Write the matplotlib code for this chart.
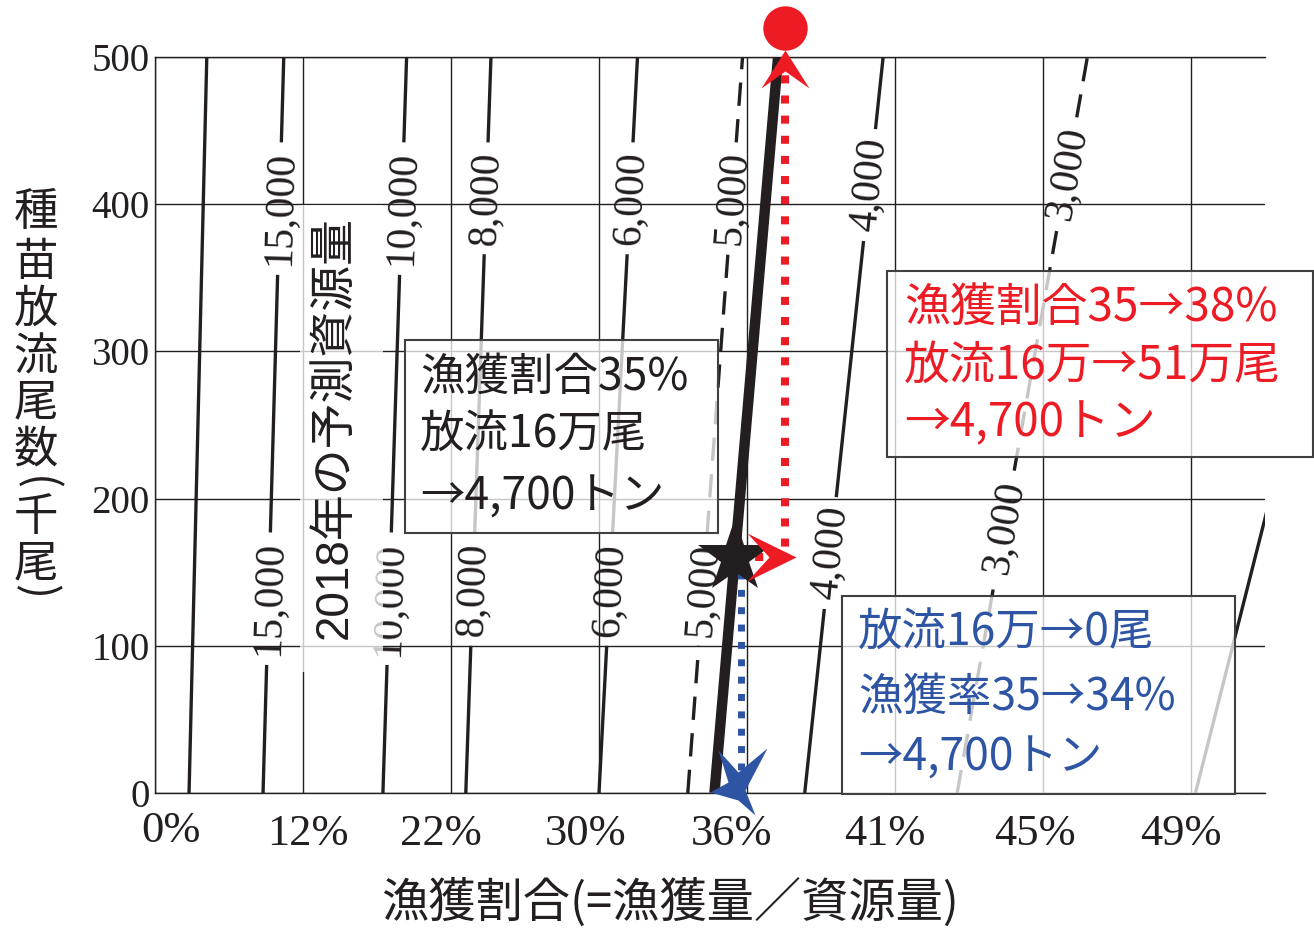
import numpy as np
import matplotlib.pyplot as plt
import matplotlib.transforms as mtrans
from matplotlib.patches import Rectangle

plt.rcParams['font.family'] = ['Noto Sans CJK JP', 'DejaVu Sans']
SANS = ['Liberation Sans', 'Noto Sans CJK JP']

INK = '#231f20'
RED = '#ed1c24'
BLUE = '#2e54a4'

# x axis: catch ratio categories, one per grid column
xlabels = ['0%', '12%', '22%', '30%', '36%', '41%', '45%', '49%']
yticks = [0, 100, 200, 300, 400, 500]

# iso-biomass lines (tons): x at 0 and at 500 thousand fish released
iso_vals = ['', '15,000', '10,000', '8,000', '6,000', '5,000', '4,000', '3,000', '']
iso_x0 = [0.23, 0.73, 1.54, 2.10, 3.00, 3.60, 4.39, 5.42, 7.03]
iso_x1 = [0.35, 0.87, 1.70, 2.27, 3.26, 3.97, 4.92, 6.30, 8.29]
iso_lab_hi = [0, 397, 397, 404, 404, 404, 413, 421, 0]
iso_lab_lo = [0, 132, 132, 138, 138, 138, 163, 181, 0]
dashed_vals = ['5,000', '3,000']

# forecast 4,700 t line
cur_x0, cur_x1 = 3.78, 4.21

# scenarios
now_x, now_y = 3.92, 160          # 35%, 160 thousand
red_x, red_top, red_goal = 4.26, 490, 520
blue_x, blue_y0, blue_y1 = 3.96, 150, 15

fig = plt.figure(figsize=(13.14, 9.3), dpi=100)
ax = fig.add_axes([155/1314, 1-793/930, 1110/1314, 736/930])
ax.set_xlim(0, 7.5)
ax.set_ylim(0, 500)

ax.set_xticks(range(len(xlabels)))
ax.set_xticklabels(xlabels, family='Liberation Serif', fontsize=32, color=INK)
ax.set_yticks(yticks)
ax.set_yticklabels([str(v) for v in yticks], family='Liberation Serif', fontsize=28, color=INK)
ax.tick_params(length=0)
ax.tick_params(axis='x', pad=15)
ax.tick_params(axis='y', pad=4)
ax.grid(color=INK, lw=1.0, zorder=2.5)
ax.set_axisbelow(False)
ax.spines['right'].set_visible(False)
for s in ['left', 'bottom', 'top']:
    ax.spines[s].set_color(INK)
    ax.spines[s].set_linewidth(1.0)

xlab_shift = [(16, 3), (5, 0), (-10, 0), (-13, 0), (-15, 0), (-10, 0), (-8, 0), (-10, 0)]
for lab, (dx, dy) in zip(ax.get_xticklabels(), xlab_shift):
    lab.set_transform(lab.get_transform() +
                      mtrans.ScaledTranslation(dx/100, dy/100, fig.dpi_scale_trans))

# iso lines with gaps for labels
for val, x0, x1, yh, yl in zip(iso_vals, iso_x0, iso_x1, iso_lab_hi, iso_lab_lo):
    slope = (x1 - x0) / 500
    ls = (0, (7, 4)) if val in dashed_vals else '-'
    if val:
        gh = 7 * len(val) + 3
        spans = [(0, yl - gh), (yl + gh, yh - gh), (yh + gh, 500)]
    else:
        spans = [(0, 500)]
    for ya, yb in spans:
        ax.plot([x0 + slope*ya, x0 + slope*yb], [ya, yb], color=INK, lw=2.4,
                ls=ls, zorder=2, solid_capstyle='butt')
    if val:
        ang = np.degrees(np.arctan2(500, x1 - x0))
        for yy in (yh, yl):
            ax.text(x0 + slope*yy, yy, val, rotation=ang, transform_rotates_text=True,
                    rotation_mode='anchor', ha='center', va='center',
                    family='Liberation Serif', fontsize=30, color=INK, zorder=1.5)

ax.plot([cur_x0, cur_x1], [0, 500], color=INK, lw=7.5, zorder=3, solid_capstyle='butt')

# text boxes (semi-transparent white)
def box(x0, y0, x1, y1, edge=True):
    ax.add_patch(Rectangle((x0, y0), x1-x0, y1-y0, transform=ax.transAxes,
                           facecolor='white', alpha=0.75, edgecolor='none',
                           zorder=4, clip_on=False))
    if edge:
        ax.add_patch(Rectangle((x0, y0), x1-x0, y1-y0, transform=ax.transAxes,
                               facecolor='none', edgecolor='#404040', lw=1.5,
                               zorder=4.1, clip_on=False))

box(0.1306, 0.164, 0.2054, 0.799, edge=False)
ax.text(0.1622, 0.497, '2018年の予測資源量', transform=ax.transAxes, rotation=90,
        ha='center', va='center', fontsize=33, color=INK, zorder=5, family=SANS)

box(0.2252, 0.3533, 0.5072, 0.6155)
for t, yy in zip(['漁獲割合35%', '放流16万尾', '→4,700トン'], [0.5652, 0.4864, 0.4022]):
    ax.text(0.2387, yy, t, transform=ax.transAxes, ha='left', va='center',
            fontsize=32, color=INK, zorder=5)

box(0.6595, 0.4565, 1.0432, 0.7092)
for t, yy in zip(['漁獲割合35→38%', '放流16万→51万尾', '→4,700トン'], [0.659, 0.5815, 0.5027]):
    ax.text(0.6748, yy, t, transform=ax.transAxes, ha='left', va='center',
            fontsize=33, color=RED, zorder=5, clip_on=False)

box(0.6189, -0.0014, 0.9730, 0.2677)
for t, yy in zip(['放流16万→0尾', '漁獲率35→34%', '→4,700トン'], [0.2174, 0.1304, 0.0476]):
    ax.text(0.6333, yy, t, transform=ax.transAxes, ha='left', va='center',
            fontsize=32, color=BLUE, zorder=5)

# scenario paths
ax.plot([now_x, red_x, red_x], [now_y, now_y, red_top], color=RED, lw=5.8,
        ls=(0, (1, 1.5)), zorder=6)
ax.plot([blue_x, blue_x], [blue_y0, blue_y1], color=BLUE, lw=5,
        ls=(0, (1, 1.5)), zorder=6)

arrow_right = [(11, 0), (-38, 24), (-16, 0), (-38, -24)]
arrow_up = [(0, 7), (24, -31), (0, -14), (-24, -31)]
arrow_blue = [(-23, 43), (-3, 21), (26, 45), (4, 3), (14, -22), (-3, -7), (-31, 1), (-13, 11)]
ax.plot(red_x, now_y, marker=arrow_right, ms=54.7, color=RED, mew=0, zorder=7)
ax.plot(red_x, 500, marker=arrow_up, ms=44.6, color=RED, mew=0, zorder=7, clip_on=False)
ax.plot(red_x, red_goal, marker='o', ms=32, color=RED, mew=0, zorder=7, clip_on=False)
ax.plot(blue_x, 0, marker=arrow_blue, ms=64.8, color=BLUE, mew=0, zorder=7, clip_on=False)
ax.plot(now_x, now_y, marker='*', ms=56, color=INK, mew=0, zorder=6.5)

# axis titles
ychars = ['種', '苗', '放', '流', '尾', '数', '(', '千', '尾', ')']
ypix = [212, 262, 309, 357, 402, 449, 484, 517, 563, 592]
for ch, yp in zip(ychars, ypix):
    fig.text(36/1314, 1 - yp/930, ch, ha='center', va='center', fontsize=32,
             color=INK, rotation=-90 if ch in '()' else 0)

fig.text(670/1314, 1 - 903/930, '漁獲割合(=漁獲量／資源量)', ha='center', va='center',
         fontsize=34, color=INK)

fig.savefig('out.png', dpi=100)
